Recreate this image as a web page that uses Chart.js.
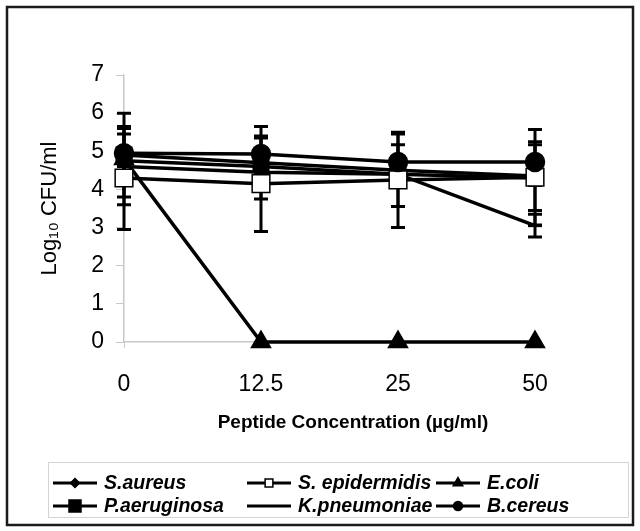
<!DOCTYPE html>
<html>
<head>
<meta charset="utf-8">
<script src="https://cdn.jsdelivr.net/npm/chart.js@4"></script>
<style>
  html, body { margin: 0; padding: 0; background: #fff; }
  #wrap { width: 640px; height: 531px; }
</style>
</head>
<body>
<div id="wrap"><canvas id="chart" width="640" height="531"></canvas></div>
<script>
// Data
const concentrations = ['0', '12.5', '25', '50'];
const yTicks = [0, 1, 2, 3, 4, 5, 6, 7];

const sAureus      = [4.75, 4.60, 4.40, 4.30];
const sEpidermidis = [4.30, 4.15, 4.25, 4.32];
const eColi        = [4.80, 0, 0, 0];
const pAeruginosa  = [4.90, 4.70, 4.50, 4.35];
const kPneumoniae  = [4.60, 4.45, 4.40, 3.05];
const bCereus      = [4.95, 4.93, 4.72, 4.72];

// symmetric error bar half-widths
const sAureusErr      = [0.30, 0.20, 0.20, 0.20];
const sEpidermidisErr = [1.35, 1.25, 1.25, 1.25];
const eColiErr        = [0.20, 0, 0, 0];
const pAeruginosaErr  = [1.10, 0.95, 0.95, 0.90];
const kPneumoniaeErr  = [1.00, 0.40, 0.30, 0.30];
const bCereusErr      = [0.50, 0.42, 0.45, 0.45];

const seriesNames = ['S.aureus', 'S. epidermidis', 'E.coli', 'P.aeruginosa', 'K.pneumoniae', 'B.cereus'];

function makeSet(label, data, err, style, radius, fill, order) {
    return {
        label: label,
        data: data,
        errors: err,
        borderColor: '#000',
        borderWidth: 3.5,
        backgroundColor: fill,
        pointStyle: style,
        pointRadius: radius,
        pointHoverRadius: radius,
        pointBorderColor: '#000',
        pointBackgroundColor: fill,
        pointBorderWidth: style === 'line' ? 3 : 1.5,
        tension: 0,
        clip: false,
        order: order
    };
}

// Error bars drawn from the y scale, under the markers
const errorBars = {
    id: 'errorBars',
    beforeDatasetsDraw(chart) {
        const ctx = chart.ctx;
        const y = chart.scales.y;
        ctx.save();
        ctx.strokeStyle = '#000';
        ctx.lineWidth = 3;
        chart.data.datasets.forEach((ds, i) => {
            const meta = chart.getDatasetMeta(i);
            meta.data.forEach((pt, j) => {
                const e = ds.errors[j];
                if (!e) return;
                const top = y.getPixelForValue(ds.data[j] + e);
                const bot = y.getPixelForValue(ds.data[j] - e);
                ctx.beginPath();
                ctx.moveTo(pt.x, top); ctx.lineTo(pt.x, bot);
                ctx.moveTo(pt.x - 7, top); ctx.lineTo(pt.x + 7, top);
                ctx.moveTo(pt.x - 7, bot); ctx.lineTo(pt.x + 7, bot);
                ctx.stroke();
            });
        });
        ctx.restore();
    }
};

// Frame, x title and legend box like the original sheet
const legendSize = { rectRot: 4.5, rect: 5.5, triangle: 5.5, line: 0, circle: 4.5 };

const decor = {
    id: 'decor',
    afterDraw(chart) {
        const ctx = chart.ctx;
        ctx.save();
        ctx.strokeStyle = '#1a1a1a';
        ctx.lineWidth = 2.5;
        ctx.strokeRect(7, 7, 626, 518);

        ctx.fillStyle = '#000';
        ctx.font = 'bold 19px "Liberation Sans", Arial, sans-serif';
        ctx.textAlign = 'center';
        ctx.textBaseline = 'middle';
        ctx.fillText('Peptide Concentration (µg/ml)', 353, 423);

        ctx.strokeStyle = '#d4d4d4';
        ctx.lineWidth = 1;
        ctx.strokeRect(48.5, 462.5, 580, 55);

        const cols = [53, 247, 436];
        const rows = [483, 506];
        ctx.font = 'italic bold 19.5px "Liberation Sans", Arial, sans-serif';
        ctx.textAlign = 'left';
        chart.data.datasets.forEach((ds, i) => {
            const x0 = cols[i % 3], yy = rows[Math.floor(i / 3)];
            ctx.strokeStyle = '#000';
            ctx.lineWidth = 3;
            ctx.beginPath();
            ctx.moveTo(x0, yy); ctx.lineTo(x0 + 44, yy);
            ctx.stroke();
            let r = legendSize[ds.pointStyle];
            if (ds.label === 'P.aeruginosa') r = 8.5;
            if (r) {
                ctx.fillStyle = ds.pointBackgroundColor;
                ctx.strokeStyle = '#000';
                ctx.lineWidth = 1.5;
                Chart.helpers.drawPoint(ctx, {
                    pointStyle: ds.pointStyle, radius: r, borderWidth: 1.5
                }, x0 + 22, yy);
            }
            ctx.fillStyle = '#000';
            ctx.fillText(ds.label, x0 + 51, yy + 1);
        });
        ctx.restore();
    }
};

const ctx = document.getElementById('chart').getContext('2d');
const chart = new Chart(ctx, {
    type: 'line',
    data: {
        labels: concentrations,
        datasets: [
            makeSet(seriesNames[0], sAureus, sAureusErr, 'rectRot', 7, '#000', 4),
            makeSet(seriesNames[1], sEpidermidis, sEpidermidisErr, 'rect', 12.5, '#fff', 1),
            makeSet(seriesNames[2], eColi, eColiErr, 'triangle', 11, '#000', 2),
            makeSet(seriesNames[3], pAeruginosa, pAeruginosaErr, 'rect', 11, '#000', 3),
            makeSet(seriesNames[4], kPneumoniae, kPneumoniaeErr, 'line', 7, '#000', 5),
            makeSet(seriesNames[5], bCereus, bCereusErr, 'circle', 9.5, '#000', 0)
        ]
    },
    options: {
        responsive: false,
        animation: false,
        layout: { padding: { left: 0, right: 105, top: 75, bottom: 95 } },
        plugins: {
            legend: { display: false },
            tooltip: { enabled: false }
        },
        scales: {
            x: {
                offset: false,
                afterFit(scale) { scale.height = 94; },
                grid: { drawOnChartArea: false, color: '#c8c8c8', tickLength: 6 },
                border: { color: '#c8c8c8', width: 1.5 },
                ticks: {
                    color: '#000',
                    padding: 23,
                    maxRotation: 0,
                    font: { family: '"Liberation Sans", Arial, sans-serif', size: 23 }
                }
            },
            y: {
                min: 0,
                max: 7,
                afterFit(scale) { scale.width = 124; },
                afterBuildTicks(scale) { scale.ticks = yTicks.map(v => ({ value: v })); },
                grid: { drawOnChartArea: false, color: '#c8c8c8', tickLength: 8 },
                border: { color: '#c8c8c8', width: 1.5 },
                title: {
                    display: true,
                    text: 'Log₁₀ CFU/ml',
                    color: '#000',
                    padding: { top: 37, bottom: 0 },
                    font: { family: '"Liberation Sans", Arial, sans-serif', size: 22 }
                },
                ticks: {
                    color: '#000',
                    padding: 12,
                    font: { family: '"Liberation Sans", Arial, sans-serif', size: 23 }
                }
            }
        }
    },
    plugins: [errorBars, decor]
});
</script>
</body>
</html>
